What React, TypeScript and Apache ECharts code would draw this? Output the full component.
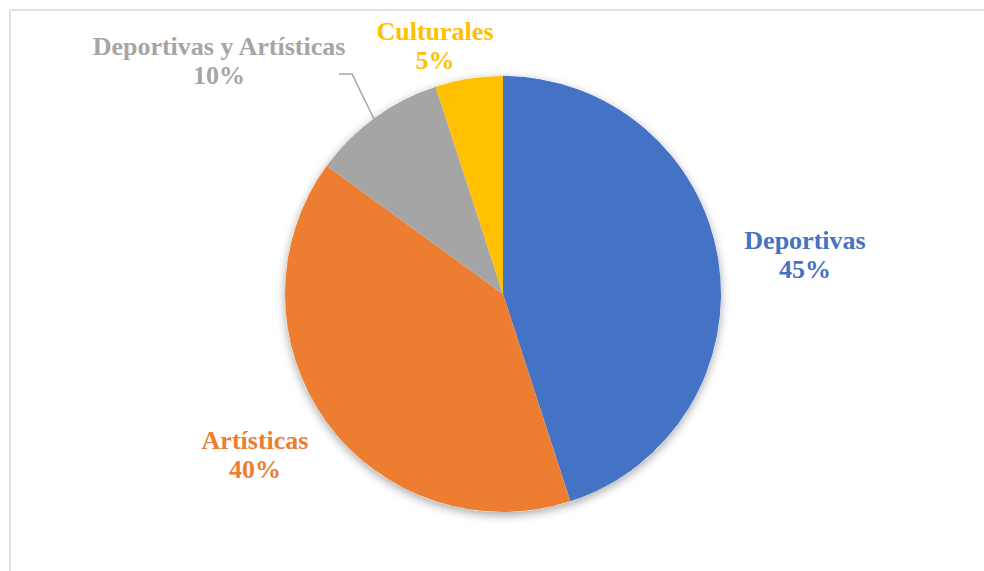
import React, { useEffect, useRef } from "react";
import * as echarts from "echarts";

const categories = ["Deportivas", "Artísticas", "Deportivas y Artísticas", "Culturales"];
const values = [45, 40, 10, 5];
const colors = ["#4472C4", "#ED7D31", "#A5A5A5", "#FFC000"];

const CX = 503;
const CY = 294;
const R = 218;
// label block centres relative to pie centre
const labelOffsets = [
  [302, -39],
  [-248, 161],
  [-284, -233],
  [-68, -248],
];

const FONT = "Liberation Serif";

export default function App() {
  const ref = useRef<HTMLDivElement>(null);
  useEffect(() => {
    const chart = echarts.init(ref.current!, null, { renderer: "svg" });
    const data = categories.map((name, i) => ({
      name,
      value: values[i],
      itemStyle: { color: colors[i] },
      label: {
        color: colors[i],
        fontFamily: FONT,
        fontWeight: "bold",
        fontSize: 26,
        lineHeight: 29,
      },
      labelLine: i === 2 ? { show: true, lineStyle: { color: "#A5A5A5", width: 1.5 } } : { show: false },
    }));
    chart.setOption({
      animation: false,
      backgroundColor: "#fff",
      textStyle: { fontFamily: FONT },
      graphic: [
        {
          type: "rect",
          shape: { x: 10, y: 10, width: 1100, height: 700 },
          style: { fill: "none", stroke: "#D9D9D9", lineWidth: 1.5 },
          silent: true,
          z: 0,
        },
      ],
      series: [
        {
          type: "pie",
          silent: true,
          center: [CX, CY],
          radius: [0, R],
          label: { show: false },
          labelLine: { show: false },
          z: 1,
          data: [
            {
              value: 1,
              itemStyle: {
                color: "#fff",
                shadowBlur: 10,
                shadowOffsetY: 3,
                shadowColor: "rgba(0,0,0,0.35)",
              },
            },
          ],
        },
        {
          type: "pie",
          center: [CX, CY],
          radius: [0, R],
          startAngle: 90,
          clockwise: true,
          z: 2,
          percentPrecision: 0,
          label: {
            show: true,
            position: "outside",
            formatter: "{b}\n{d}%",
            fontFamily: FONT,
            fontWeight: "bold",
            fontSize: 26,
            lineHeight: 29,
            align: "center",
          },
          labelLine: { show: false },
          labelLayout: (params: any) => {
            const i = params.dataIndex;
            const o = labelOffsets[i];
            const res: any = {
              x: CX + o[0],
              y: CY + o[1],
              align: "center",
              verticalAlign: "middle",
            };
            if (i === 2) {
              res.labelLinePoints = [
                [339, 74],
                [352, 74],
                [374, 119],
              ];
            }
            return res;
          },
          data,
        },
      ],
    });
    return () => chart.dispose();
  }, []);
  return (
    <div
      ref={ref}
      style={{ position: "absolute", left: 0, top: 0, width: 984, height: 571 }}
    />
  );
}
